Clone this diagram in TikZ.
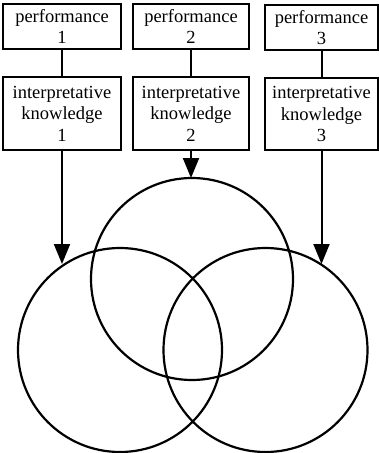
\documentclass[tikz,border=0pt]{standalone}
\usepackage{fontspec}
\setmainfont{Liberation Serif}
\usetikzlibrary{arrows.meta}
\begin{document}
\begin{tikzpicture}[x=1pt,y=-1pt,
  box/.style={draw, line width=2pt, inner sep=0pt, align=center,
    font=\fontsize{18.5}{21.5}\selectfont},
  topbox/.style={box, minimum height=45pt},
  knowbox/.style={box, minimum height=73pt},
  link/.style={line width=2pt},
  arr/.style={line width=2pt, -{Triangle[width=16pt,length=20pt]}},
  ring/.style={draw, line width=2.2pt, circle, inner sep=0pt, minimum size=204pt}]
\useasboundingbox (0,0) rectangle (379,453);
\node[topbox, minimum width=118pt] (p1) at (62,26.5) {performance\\1};
\node[topbox, minimum width=116pt] (p2) at (191,26.5) {performance\\2};
\node[topbox, minimum width=113pt] (p3) at (321.5,27.5) {performance\\3};
\node[knowbox, minimum width=118pt] (k1) at (62,113.5) {interpretative\\knowledge\\1};
\node[knowbox, minimum width=116pt] (k2) at (191,113.5) {interpretative\\knowledge\\2};
\node[knowbox, minimum width=113pt, minimum height=72pt] (k3) at (321.5,114) {interpretative\\knowledge\\3};
\draw[link] (p1) -- (k1);
\draw[link] (p2) -- (k2);
\draw[link] (p3) -- (k3);
\node[ring] (c1) at (120,350) {};
\node[ring, minimum size=202pt] (c2) at (192,279) {};
\node[ring] (c3) at (265.5,350) {};
\coordinate (a1) at (62,264);
\coordinate (a2) at (191,178);
\coordinate (a3) at (321.5,264);
\draw[arr] (k1.south) -- (a1);
\draw[arr] (k2.south) -- (a2);
\draw[arr] (k3.south) -- (a3);
\end{tikzpicture}
\end{document}
